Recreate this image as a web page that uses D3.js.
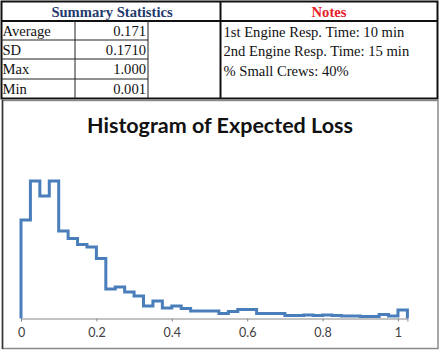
<!DOCTYPE html>
<html lang="en">
<head>
  <meta charset="utf-8">
  <title>Histogram of Expected Loss</title>
  <script src="https://d3js.org/d3.v7.min.js"></script>
  <style>
    body { margin: 0; background: #fff; }
    .tbl text { font-family: 'Liberation Serif', 'Times New Roman', serif; font-size: 14.6px; fill: #111; }
    .tick text { font-family: Lato, 'Open Sans', sans-serif; font-size: 12.5px; fill: #404040; }
  </style>
</head>
<body>
<script>
  // summary table
  const statLabels = ["Average", "SD", "Max", "Min"];
  const statValues = ["0.171", "0.1710", "1.000", "0.001"];
  const notes = ["1st Engine Resp. Time: 10 min", "2nd Engine Resp. Time: 15 min", "% Small Crews: 40%"];

  // histogram bins, width 0.025, lower edge = index * binWidth
  const binWidth = 0.025;
  const freq = [98.5, 137.5, 122.5, 137.5, 87.5, 80, 74, 71.5, 60, 29.5,
                31.5, 26.5, 22.5, 12.5, 17.5, 10.5, 12.5, 10, 7.5, 7.5,
                7.5, 5, 7, 9, 9, 5, 5, 5, 3, 3,
                3.5, 3, 3.5, 3, 2.5, 2.5, 2, 2, 4, 2.5,
                8.5];
  const xTicks = [0, 0.2, 0.4, 0.6, 0.8, 1];

  const W = 442, H = 353;
  const svg = d3.select("body").append("svg").attr("width", W).attr("height", H);

  // ---- table ----
  const tbl = svg.append("g").attr("class", "tbl");
  const rowY = [21, 40, 59, 79, 98];
  tbl.append("rect").attr("x", 1.5).attr("y", 1.5).attr("width", 436).attr("height", 97)
    .attr("fill", "#fff").attr("stroke", "#111").attr("stroke-width", 2);
  // header underline (thick)
  tbl.append("line").attr("x1", 1).attr("x2", 438).attr("y1", rowY[0]).attr("y2", rowY[0])
    .attr("stroke", "#111").attr("stroke-width", 2);
  // row lines
  rowY.slice(1, 4).forEach(y => {
    tbl.append("line").attr("x1", 1).attr("x2", 148).attr("y1", y).attr("y2", y)
      .attr("stroke", "#222").attr("stroke-width", 1);
  });
  [[75, rowY[0], 98], [148, rowY[0], 98]].forEach(d => {
    tbl.append("line").attr("x1", d[0]).attr("x2", d[0]).attr("y1", d[1]).attr("y2", d[2])
      .attr("stroke", "#222").attr("stroke-width", 1);
  });
  tbl.append("line").attr("x1", 220.5).attr("x2", 220.5).attr("y1", 1).attr("y2", 99)
    .attr("stroke", "#111").attr("stroke-width", 2);

  tbl.append("text").attr("x", 112).attr("y", 16.5).attr("text-anchor", "middle")
    .style("font-weight", "bold").style("fill", "#1f3a6e").text("Summary Statistics");
  tbl.append("text").attr("x", 329).attr("y", 16.5).attr("text-anchor", "middle")
    .style("font-weight", "bold").style("fill", "#e8202a").text("Notes");

  statLabels.forEach((s, i) => {
    tbl.append("text").attr("x", 2.5).attr("y", rowY[i] + 15).text(s);
    tbl.append("text").attr("x", 146).attr("y", rowY[i] + 15).attr("text-anchor", "end").text(statValues[i]);
  });
  notes.forEach((s, i) => {
    tbl.append("text").attr("x", 223.5).attr("y", 36.5 + i * 19.5).text(s);
  });

  // ---- chart ----
  svg.append("rect").attr("x", 2.5).attr("y", 100.5).attr("width", 435.5).attr("height", 248)
    .attr("fill", "#fff").attr("stroke", "#8a8a8a").attr("stroke-width", 1.5);
  svg.append("line").attr("x1", 2.5).attr("x2", 2.5).attr("y1", 100).attr("y2", 349)
    .attr("stroke", "#333").attr("stroke-width", 1.5);

  svg.append("text").attr("x", 220).attr("y", 133).attr("text-anchor", "middle")
    .style("font-family", "Lato, 'Open Sans', sans-serif").style("font-weight", "bold")
    .style("font-size", "21.5px").style("fill", "#111").text("Histogram of Expected Loss");

  const x = d3.scaleLinear().domain([0, 1.025]).range([21, 407.4]);
  const y = d3.scaleLinear().domain([0, 150]).range([318.5, 168.5]);

  const xAxis = d3.axisBottom(x).tickValues(xTicks).tickSize(3).tickPadding(7)
    .tickFormat(d => d3.format("")(d));
  const gx = svg.append("g").attr("transform", `translate(0,${y(0)})`).call(xAxis);
  gx.select(".domain").attr("stroke", "#888");
  gx.selectAll(".tick line").attr("stroke", "#888");

  const pts = [{x: 0, v: 0}];
  freq.forEach((v, i) => pts.push({x: i * binWidth, v: v}));
  pts.push({x: freq.length * binWidth, v: 0});

  const line = d3.line().x(d => x(d.x)).y(d => y(d.v)).curve(d3.curveStepAfter);
  svg.append("path").attr("d", line(pts)).attr("fill", "none")
    .attr("stroke", "#4a7ebb").attr("stroke-width", 3).attr("stroke-linejoin", "miter");
</script>
</body>
</html>
